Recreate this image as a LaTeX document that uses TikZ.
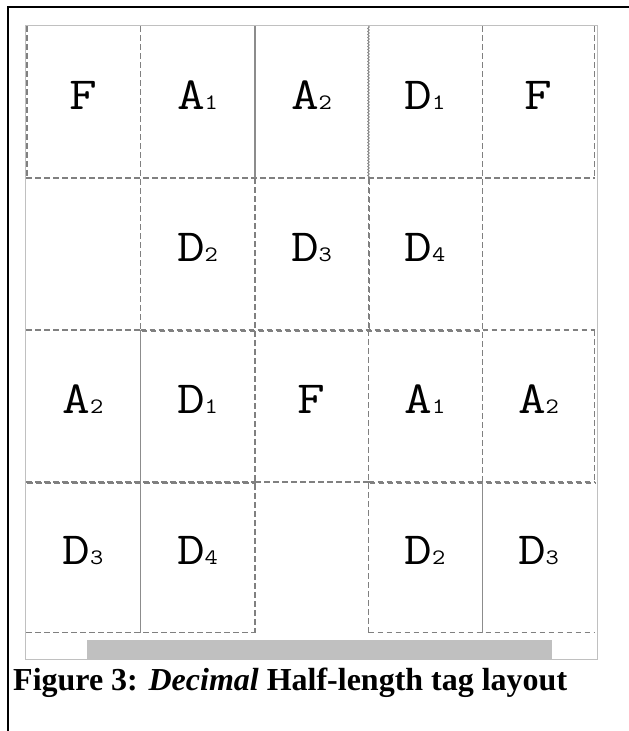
\documentclass[tikz,border=0pt]{standalone}
\usepackage{fontspec}
\usepackage{graphicx}
\newfontfamily\capfont{Liberation Serif}
\usetikzlibrary{decorations.pathmorphing}
\definecolor{dashgray}{RGB}{128,128,128}
\definecolor{solidgray}{RGB}{140,140,140}
\definecolor{framegray}{RGB}{192,192,192}
\newcommand{\subdig}[1]{{\fontsize{22}{22}\selectfont #1}}
\newcommand{\wide}[1]{\scalebox{1.17}[1]{#1}}
\begin{document}
\begin{tikzpicture}[x=1pt,y=-1pt,
  dline/.style={draw=dashgray, line width=1.2pt, dash pattern=on 5.5pt off 3.5pt},
  sline/.style={draw=solidgray, line width=1.3pt},
  wline/.style={draw=dashgray, line width=0.9pt, decorate,
    decoration={snake, amplitude=0.7pt, segment length=3pt}},
  lbl/.style={anchor=base, inner sep=0pt, text=black,
    font=\ttfamily\fontsize{46}{46}\selectfont},
  capstyle/.style={anchor=base west, inner sep=0pt, text=black,
    font=\capfont\bfseries\fontsize{32}{32}\selectfont}]
\useasboundingbox (0,0) rectangle (629,731);
\fill[white] (0,0) rectangle (629,731);
% black page edges
\draw[black, line width=2pt] (7.5,731) -- (7.5,7) -- (629,7);
% outer frame and bar
\fill[framegray] (87,640) rectangle (552,659);
\draw[framegray, line width=1.5pt] (25.5,25.5) rectangle (597.5,659.5);
% horizontal lines
\draw[dline] (26,178) -- (595,178);
\draw[dline] (26,330) -- (140.5,330);
\draw[dline] (482.5,330) -- (595,330);
\foreach \o in {0,1}{
  \draw[dline, xshift=\o pt, yshift=-\o pt] (140.5,330) -- (482.5,330);
  \draw[dline, xshift=\o pt, yshift=-\o pt] (26,482) -- (255,482);
  \draw[dline, xshift=\o pt, yshift=-\o pt] (368.5,482) -- (595,482);
  \draw[dline, xshift=\o pt, yshift=-\o pt] (368.5,178) -- (368.5,330);
}
\draw[dline] (255,482) -- (368.5,482);
\draw[dline] (26,632.5) -- (255,632.5);
\draw[dline] (368.5,632.5) -- (595,632.5);
% vertical lines
\draw[dline] (27,26) -- (27,178);
\draw[dline] (594.5,26) -- (594.5,178);
\draw[dline] (594.5,330) -- (594.5,482);
\draw[dline] (140.5,26) -- (140.5,330);
\draw[sline] (140.5,330) -- (140.5,632.5);
\draw[sline] (255,26) -- (255,178);
\draw[dline] (255,178) -- (255,632.5);
\draw[wline] (368.5,26) -- (368.5,178);
\draw[dline] (368.5,330) -- (368.5,632.5);
\draw[dline] (482.5,26) -- (482.5,482);
\draw[sline] (482.5,482) -- (482.5,632.5);
% labels
\node[lbl] (a1) at (83,109) {\wide{F}};
\node[lbl] (a2) at (197.5,109) {\wide{A\subdig{1}}};
\node[lbl] (a3) at (311.5,109) {\wide{A\subdig{2}}};
\node[lbl] (a4) at (425,109) {\wide{D\subdig{1}}};
\node[lbl] (a5) at (538.5,109) {\wide{F}};
\node[lbl] (b2) at (197.5,261) {\wide{D\subdig{2}}};
\node[lbl] (b3) at (311.5,261) {\wide{D\subdig{3}}};
\node[lbl] (b4) at (425,261) {\wide{D\subdig{4}}};
\node[lbl] (c1) at (83,413) {\wide{A\subdig{2}}};
\node[lbl] (c2) at (197.5,413) {\wide{D\subdig{1}}};
\node[lbl] (c3) at (311.5,413) {\wide{F}};
\node[lbl] (c4) at (425,413) {\wide{A\subdig{1}}};
\node[lbl] (c5) at (538.5,413) {\wide{A\subdig{2}}};
\node[lbl] (d1) at (83,564) {\wide{D\subdig{3}}};
\node[lbl] (d2) at (197.5,564) {\wide{D\subdig{4}}};
\node[lbl] (d4) at (425,564) {\wide{D\subdig{2}}};
\node[lbl] (d5) at (538.5,564) {\wide{D\subdig{3}}};
% caption
\node[capstyle] (cap) at (13,690) {Figure 3: \textit{Decimal} Half-length tag layout};
\end{tikzpicture}
\end{document}
